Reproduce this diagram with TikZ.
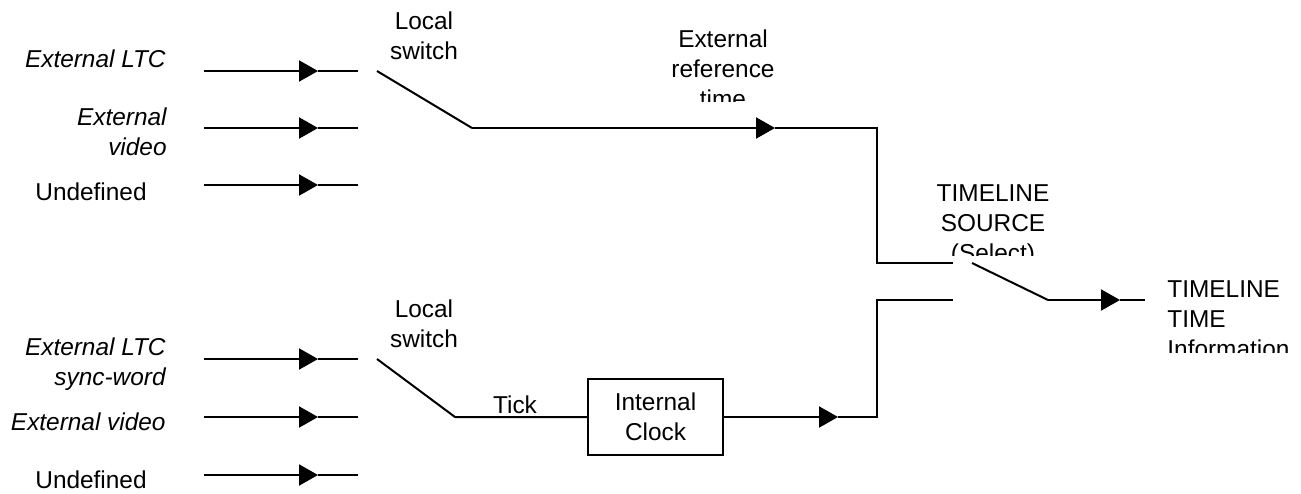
\documentclass[tikz,border=0pt]{standalone}
\usepackage{fontspec}
\setmainfont{Liberation Sans}
\usetikzlibrary{arrows.meta}
\tikzset{%
  wire/.style = { line width=1pt },
  flow/.style = { wire, -{Triangle[length=9.5pt,width=10.5pt]} },
  lbl/.style = { inner sep=0pt, font=\fontsize{12.2}{15}\selectfont },
  inlbl/.style = { lbl, font=\fontsize{12.2}{15}\selectfont\itshape, align=right, anchor=base east },
  midlbl/.style = { lbl, align=center, anchor=base },
  clockbox/.style = { draw, wire, lbl, align=center, minimum width=67.5pt, minimum height=38pt }
}

\begin{document}
\begin{tikzpicture}[x=0.5pt, y=-0.5pt]

  \useasboundingbox (0,0) rectangle (1301,493);

  % Upper inputs
  \foreach \y/\n in {71/ua,128/ub,185/uc} {
    \coordinate (\n0) at (204,\y);
    \coordinate (\n1) at (318,\y);
    \coordinate (\n2) at (358,\y);
    \draw[flow] (\n0) -- (\n1);
    \draw[wire] (\n1) -- (\n2);
  }

  % (multi-line labels sit on the baseline of their last line)
  \node[inlbl] (ultc) at (166,67) {External LTC};
  \node[inlbl] (uvid) at (167,155) {External\\video};
  \node[lbl, anchor=base west] (uund) at (35,200) {Undefined};
  \node[midlbl] (uswlbl) at (424,59) {Local\\switch};

  % Upper switch
  \coordinate (upiv) at (377,71);
  \coordinate (ucon) at (472,128);
  \coordinate (ureftip) at (775,128);
  \coordinate (ucor) at (877,128);
  \coordinate (sela) at (877,263);
  \coordinate (selina) at (953,263);

  \draw[wire] (upiv) -- (ucon);
  \draw[flow] (ucon) -- (ureftip);
  \draw[wire] (ureftip) -- (ucor) -- (sela) -- (selina);

  \begin{scope}
    \clip (600,0) rectangle (850,101);
    \node[midlbl] (ureflbl) at (723,107) {External\\reference\\time};
  \end{scope}

  % Lower inputs
  \foreach \y/\n in {359/la,417/lb,475/lc} {
    \coordinate (\n0) at (204,\y);
    \coordinate (\n1) at (318,\y);
    \coordinate (\n2) at (358,\y);
    \draw[flow] (\n0) -- (\n1);
    \draw[wire] (\n1) -- (\n2);
  }

  \node[inlbl] (lltc) at (166,385) {External LTC\\sync-word};
  \node[inlbl] (lvid) at (166,430) {External video};
  \node[lbl, anchor=base west] (lund) at (35,488) {Undefined};
  \node[midlbl] (lswlbl) at (424,347) {Local\\switch};

  % Lower switch and clock
  \node[clockbox] (clk) at (655.5,417) {Internal\\Clock};
  \coordinate (lpiv) at (377,359);
  \coordinate (lcon) at (455,417);
  \coordinate (lclktip) at (838,417);
  \coordinate (lcor) at (877,417);
  \coordinate (selb) at (877,300);
  \coordinate (selinb) at (953,300);

  \draw[wire] (lpiv) -- (lcon) -- (clk.west);
  \draw[flow] (clk.east) -- (lclktip);
  \draw[wire] (lclktip) -- (lcor) -- (selb) -- (selinb);
  \node[midlbl] (tick) at (515,413) {Tick};

  % Timeline source select
  \coordinate (selpiv) at (972,263);
  \coordinate (selcon) at (1048,300);
  \coordinate (outtip) at (1120,300);
  \coordinate (outend) at (1145,300);

  \draw[wire] (selpiv) -- (selcon);
  \draw[flow] (selcon) -- (outtip);
  \draw[wire] (outtip) -- (outend);

  \begin{scope}
    \clip (900,150) rectangle (1100,255);
    \node[midlbl] (sellbl) at (993,261) {TIMELINE\\SOURCE\\(Select)};
  \end{scope}

  \begin{scope}
    \clip (1150,250) rectangle (1301,352);
    \node[lbl, align=left, anchor=base west] (outlbl) at (1167,357) {TIMELINE\\TIME\\Information};
  \end{scope}

\end{tikzpicture}
\end{document}
